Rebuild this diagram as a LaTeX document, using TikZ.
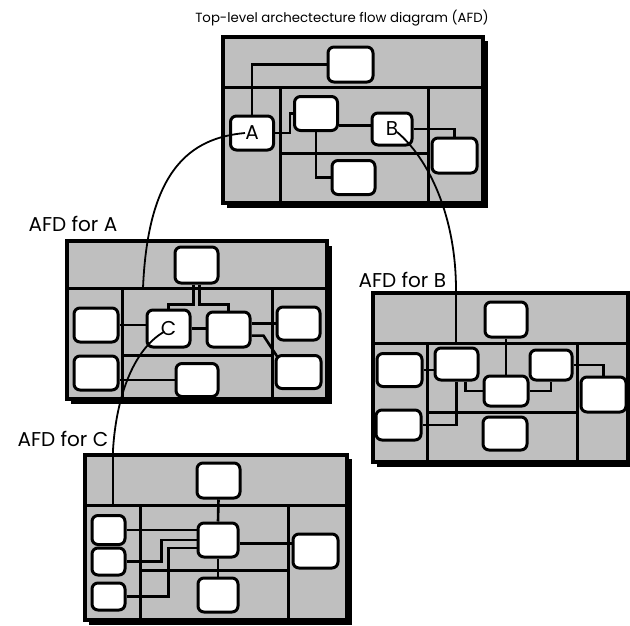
\documentclass[tikz,border=0pt]{standalone}
\usepackage{fontspec}
\setmainfont{Poppins}
\usepackage{tikz}

\begin{document}
\begin{tikzpicture}[x=1pt, y=-1pt,
    blk/.style={rectangle, draw, rounded corners=6pt, line width=3pt, fill=white, minimum width=43pt, minimum height=34pt, inner sep=0pt, font=\fontsize{20}{20}\selectfont},
    smallblk/.style={blk, minimum width=33pt, minimum height=28pt},
    panel/.style={draw, line width=3.2pt, fill=black!25},
    sep/.style={line width=3pt},
    wire/.style={line width=2.6pt},
    link/.style={line width=1.8pt},
    lbl/.style={anchor=west, font=\fontsize{20}{20}\selectfont}]
    \useasboundingbox (0,0) rectangle (630,625);

    % Top-level AFD
    \fill (227,41) rectangle (488,208);
    \draw[panel] (223,37) rectangle (483,203);
    \draw[sep] (223,87) -- (483,87);
    \draw[sep] (280,87) -- (280,203);
    \draw[sep] (428,87) -- (428,203);
    \draw[sep] (280,153) -- (428,153);
    \node[blk, minimum width=45pt, minimum height=35pt] (topup) at (350.5,64.5) {};
    \node[blk] (a) at (252,133) {A};
    \node[blk] (topmid) at (316,113.5) {};
    \node[blk, minimum width=40pt, minimum height=32pt] (b) at (392,129) {B};
    \node[blk, minimum width=45pt, minimum height=35pt] (topright) at (454.5,155.5) {};
    \node[blk] (toplow) at (353.5,177.5) {};
    \draw[wire] (a.north) |- (topup.west);
    \draw[wire] (a.east) -- ++(15,0) |- (topmid.west);
    \draw[wire] (b.170) -- (b.170 -| topmid.east);
    \draw[wire] (topmid.south) |- (toplow.west);
    \draw[wire] (b.east) -| (topright.north);

    % AFD for A
    \fill (71,246) rectangle (332,404);
    \draw[panel] (67,241) rectangle (327,399);
    \draw[sep] (67,288) -- (327,288);
    \draw[sep] (122,288) -- (122,399);
    \draw[sep] (272,288) -- (272,399);
    \draw[sep] (122,355) -- (272,355);
    \node[blk, minimum height=36pt] (aup) at (196.5,265) {};
    \node[blk, minimum width=44pt, minimum height=34pt] (aleft1) at (96,325) {};
    \node[blk, minimum height=37pt] (c) at (168.5,328.5) {C};
    \node[blk, minimum height=35pt] (amid) at (228.5,329.5) {};
    \node[blk, minimum height=33pt] (aright1) at (298.5,323.5) {};
    \node[blk, minimum width=44pt, minimum height=34pt] (aleft2) at (96,373) {};
    \node[blk, minimum width=42pt, minimum height=33pt] (alow) at (197,380) {};
    \node[blk, minimum width=45pt, minimum height=33pt] (aright2) at (298.5,372) {};
    \draw[wire] (aup.south) ++(-3,0) -- ++(0,20) -| (c.north);
    \draw[wire] (aup.south) ++(3,0) -- ++(0,20) -| (amid.north);
    \draw[wire] (aleft1.east) -- (aleft1.east -| c.west);
    \draw[wire] (c.east) -- (c.east -| amid.west);
    \draw[wire] (aright1.west -| amid.east) -- (aright1.west);
    \draw[wire] (amid.-15) -- ++(12,0) -- ([shift={(3,3)}]aright2.north west);
    \draw[wire] (alow.west -| aleft2.east) -- (alow.west);

    % AFD for B
    \fill (377,297) rectangle (633,467);
    \draw[panel] (373,293) rectangle (628,462);
    \draw[sep] (373,343) -- (628,343);
    \draw[sep] (427,343) -- (427,462);
    \draw[sep] (577,343) -- (577,462);
    \draw[sep] (427,412) -- (577,412);
    \node[blk, minimum width=42pt, minimum height=35pt] (bup) at (506,319.5) {};
    \node[blk, minimum width=45pt, minimum height=33pt] (bleft1) at (399.5,370) {};
    \node[blk, minimum height=32pt] (bmid1) at (456.5,364) {};
    \node[blk, minimum width=44pt, minimum height=30pt] (bcen) at (506,391) {};
    \node[blk, minimum width=42pt, minimum height=30pt] (bmid2) at (551,365) {};
    \node[blk, minimum width=45pt, minimum height=35pt] (bright) at (603.5,394.5) {};
    \node[blk, minimum width=45pt, minimum height=30pt] (bleft2) at (398.5,425) {};
    \node[blk, minimum width=44pt, minimum height=33pt] (blow) at (505,433.5) {};
    \draw[wire] (bup.south) -- (bcen.north);
    \draw[wire] (bleft1.east) -- (bleft1.east -| bmid1.west);
    \draw[wire] ([xshift=9pt]bmid1.south) |- (bcen.west);
    \draw[wire] (bmid1.south) |- (bleft2.east);
    \draw[wire] (bcen.east) -| (bmid2.south);
    \draw[wire] (bmid2.east) -| (bright.north);

    % AFD for C
    \fill (89,459) rectangle (352,625);
    \draw[panel] (85,455) rectangle (347,620);
    \draw[sep] (85,505) -- (347,505);
    \draw[sep] (140,505) -- (140,620);
    \draw[sep] (288,505) -- (288,620);
    \draw[sep] (140,570) -- (288,570);
    \node[blk, minimum height=35pt] (cup) at (218.5,480.5) {};
    \node[blk, minimum width=40pt] (ccen) at (218,540) {};
    \node[blk, minimum width=45pt] (cright) at (315.5,551) {};
    \node[blk, minimum width=40pt] (clow) at (218,595) {};
    \node[smallblk, minimum height=29pt] (cleft1) at (108.5,530) {};
    \node[smallblk, minimum height=27pt] (cleft2) at (108.5,561.5) {};
    \node[smallblk, minimum height=27pt] (cleft3) at (108.5,596.5) {};
    \draw[wire] (cup.south) -- (ccen.north);
    \draw[wire] (ccen.south) -- (clow.north);
    \draw[wire] (ccen.-10) -- (ccen.-10 -| cright.west);
    \draw[wire] (cleft1.east) -- (cleft1.east -| ccen.west);
    \draw[wire] (cleft2.east) -- ++(35,0) |- (ccen.west);
    \draw[wire] (cleft3.east) -- ++(42,0) |- (ccen.-160);

    % Links between levels
    \coordinate (aend) at (143,288);
    \coordinate (bend) at (456,343);
    \coordinate (cend) at (113,505);
    \draw[link] ([xshift=-7pt]a.center) .. controls (190,138) and (148,170) .. (aend);
    \draw[link] ([shift={(5pt,-3pt)}]b.center) .. controls (428,158) and (456,215) .. (456,290) -- (bend);
    \draw[link] ([shift={(-4pt,-3pt)}]c.center) .. controls (132,350) and (116,400) .. (113,450) -- (cend);

    % Labels
    \node[lbl, anchor=center, font=\fontsize{13.3}{13.3}\selectfont] (title) at (342,18) {Top-level archectecture flow diagram (AFD)};
    \node[lbl] (labA) at (25,224) {AFD for A};
    \node[lbl] (labB) at (355,280) {AFD for B};
    \node[lbl] (labC) at (14,439) {AFD for C};
\end{tikzpicture}
\end{document}
